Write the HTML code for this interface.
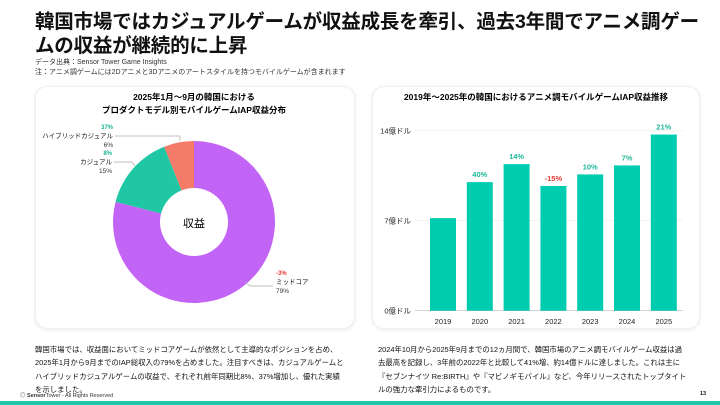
<!DOCTYPE html>
<html><head><meta charset="utf-8">
<style>
*{margin:0;padding:0;box-sizing:border-box}
body{width:720px;height:405px;background:#fff;position:relative;overflow:hidden;font-family:"Liberation Sans","Noto Sans CJK JP",sans-serif;color:#111}
.abs{position:absolute}
h1{position:absolute;left:35px;top:10px;font-size:19.5px;line-height:24px;font-weight:bold;width:690px;letter-spacing:-0.2px;white-space:nowrap}
.src{left:35px;font-size:7px;color:#333}
.panel{position:absolute;border:1px solid #eee;border-radius:12px;box-shadow:0 1px 4px rgba(0,0,0,0.08);background:#fff}
.body{font-size:7.4px;line-height:13.3px;color:#111;white-space:nowrap}
</style></head><body>
<h1>韓国市場ではカジュアルゲームが収益成長を牽引、過去3年間でアニメ調ゲー<br>ムの収益が継続的に上昇</h1>
<div class="abs src" style="top:57px">データ出典：Sensor Tower Game Insights</div>
<div class="abs src" style="top:67px">注：アニメ調ゲームには2Dアニメと3Dアニメのアートスタイルを持つモバイルゲームが含まれます</div>

<div class="panel" style="left:35px;top:86px;width:320px;height:243px"></div>
<div class="panel" style="left:372px;top:86px;width:328px;height:243px"></div>

<svg class="abs" style="left:0;top:0" width="720" height="405" id="svg">
<text x="194" y="100" font-size="8.5" font-weight="bold" text-anchor="middle">2025年1月～9月の韓国における</text>
<text x="194" y="113" font-size="8.5" font-weight="bold" text-anchor="middle">プロダクトモデル別モバイルゲームIAP収益分布</text>
<g id="donut"></g>
<text x="194" y="227" font-size="11" text-anchor="middle">収益</text>
<text x="536" y="100" font-size="8.5" font-weight="bold" text-anchor="middle">2019年～2025年の韓国におけるアニメ調モバイルゲームIAP収益推移</text>
<g id="bars"></g>
</svg>

<div class="abs body" style="left:35px;top:343px">韓国市場では、収益面においてミッドコアゲームが依然として主導的なポジションを占め、<br>2025年1月から9月までのIAP総収入の79%を占めました。注目すべきは、カジュアルゲームと<br>ハイブリッドカジュアルゲームの収益で、それぞれ前年同期比8%、37%増加し、優れた実績<br>を示しました。</div>
<div class="abs body" style="left:378px;top:343px">2024年10月から2025年9月までの12ヵ月間で、韓国市場のアニメ調モバイルゲーム収益は過<br>去最高を記録し、3年前の2022年と比較して41%増、約14億ドルに達しました。これは主に<br>『セブンナイツ Re:BIRTH』や『マビノギモバイル』など、今年リリースされたトップタイト<br>ルの強力な牽引力によるものです。</div>
<div class="abs" style="left:20px;top:391px;font-size:5.5px;color:#333">◎ <b>Sensor</b>Tower - All Rights Reserved</div>
<div class="abs" style="left:700px;top:391px;font-size:5.5px;font-weight:bold">13</div>
<div class="abs" style="left:0;top:401px;width:720px;height:4px;background:#1fc7a8"></div>

<script>
const sliceNames=['ミッドコア','カジュアル','ハイブリッドカジュアル'];
const sliceShares=[79,15,6];
const sliceGrowth=['-3%','8%','37%'];
const sliceColors=['#c264f5','#1fc7a5','#f37b68'];
const years=['2019','2020','2021','2022','2023','2024','2025'];
const revenue=[7.2,10.0,11.4,9.7,10.6,11.3,13.7];
const growth=['','40%','14%','-15%','10%','7%','21%'];
const yTicks=[0,7,14];
const yTickLabels=['0億ドル','7億ドル','14億ドル'];
const NS='http://www.w3.org/2000/svg';
function mk(t,a,p){const e=document.createElementNS(NS,t);for(const k in a)e.setAttribute(k,a[k]);p.appendChild(e);return e;}
const cx=194,cy=222,R=81,r=34;
const dg=document.getElementById('donut');
const total=sliceShares.reduce((a,b)=>a+b,0);
let ang=0;
function pt(a,rad){return [cx+rad*Math.sin(a),cy-rad*Math.cos(a)];}
sliceShares.forEach((v,i)=>{
 const a0=ang,a1=ang+v/total*2*Math.PI;ang=a1;
 const lg=(a1-a0)>Math.PI?1:0;
 const p0=pt(a0,R),p1=pt(a1,R),q1=pt(a1,r),q0=pt(a0,r);
 const p=mk('path',{d:`M${p0} A${R},${R} 0 ${lg} 1 ${p1} L${q1} A${r},${r} 0 ${lg} 0 ${q0}Z`,fill:sliceColors[i]},dg);
 
 
});
const labPos=[[276,275,'start',[[245,282],[250,286],[273,286]]],[112,155,'end',[[114,162],[132,162],[135,166]]],[113,129,'end',[[115,136],[180,136],[180,141]]]];
sliceNames.forEach((n,i)=>{
 const [x,y,anc,ln]=labPos[i];
 const pl=mk('polyline',{points:ln.map(p=>p.join(',')).join(' '),fill:'none',stroke:'#aaa','stroke-width':0.7},dg);
 
 
 const g=mk('text',{x:x,y:y,'font-size':6,'font-weight':'bold','text-anchor':anc,fill:sliceGrowth[i][0]=='-'?'#e53935':'#1fb89a'},dg);g.textContent=sliceGrowth[i];
 
 
 const t=mk('text',{x:x,y:y+9,'font-size':6.5,'text-anchor':anc,fill:'#111'},dg);t.textContent=n;
 
 
 const s=mk('text',{x:x,y:y+18,'font-size':6.5,'text-anchor':anc,fill:'#333'},dg);s.textContent=sliceShares[i]+'%';
 
 
});
const bg=document.getElementById('bars');
const y0=310.7,yTop=130.7,vmax=14;
const Y=v=>y0-(v/vmax)*(y0-yTop);
const x0=443,step=36.8,bw=26;
const X=i=>x0+i*step;
yTicks.forEach((v,i)=>{
 const l=mk('line',{x1:415,x2:683,y1:Y(v),y2:Y(v),stroke:i==0?'#bbb':'#eee','stroke-width':0.7},bg);
 
 
 const t=mk('text',{x:411,y:Y(v)+3,'font-size':7.5,'text-anchor':'end',fill:'#222'},bg);t.textContent=yTickLabels[i];
 
 
});
years.forEach((yr,i)=>{
 const b=mk('rect',{x:X(i)-bw/2,y:Y(revenue[i]),width:bw,height:y0-Y(revenue[i]),fill:'#00ccb0'},bg);
 
 
 const t=mk('text',{x:X(i),y:324,'font-size':7.5,'text-anchor':'middle',fill:'#222'},bg);t.textContent=yr;
 
 
 if(growth[i]){
  const g=mk('text',{x:X(i),y:Y(revenue[i])-5,'font-size':7.5,'font-weight':'bold','text-anchor':'middle',fill:growth[i][0]=='-'?'#e53935':'#1fb89a'},bg);g.textContent=growth[i];
  
  
 }
});
</script>
</body></html>
